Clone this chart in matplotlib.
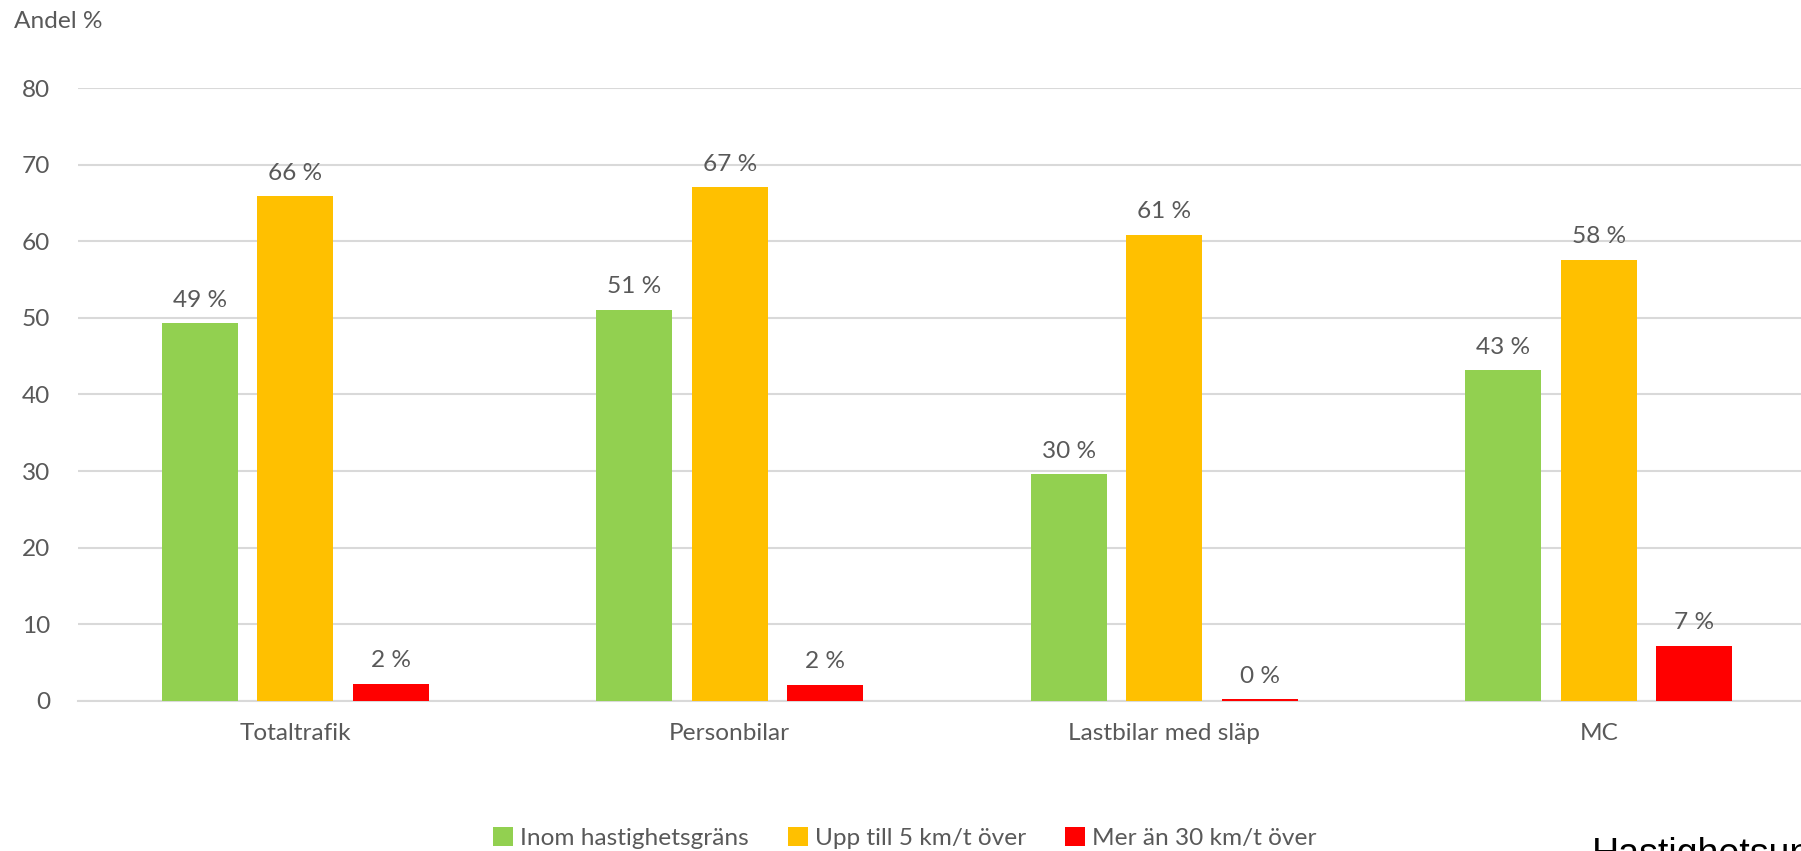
import matplotlib
matplotlib.use("Agg")
import matplotlib.pyplot as plt
import numpy as np
from matplotlib.patches import Patch

# data
categories = ["Totaltrafik", "Personbilar", "Lastbilar med släp", "MC"]
series_names = ["Inom hastighetsgräns", "Upp till 5 km/t över", "Mer än 30 km/t över"]
inom = [49.3, 51.1, 29.6, 43.2]
upp_till_5 = [65.9, 67.1, 60.9, 57.6]
mer_an_30 = [2.2, 2.1, 0.2, 7.2]
y_ticks = [0, 10, 20, 30, 40, 50, 60, 70, 80]

COLORS = ["#92D050", "#FFC000", "#FF0000"]
TEXT = "#595959"
GRID = "#D9D9D9"
FONT = ["Lato", "DejaVu Sans"]
FS = 17.6

plt.rcParams["font.family"] = FONT

fig = plt.figure(figsize=(18.01, 8.51), dpi=100)
ax = fig.add_axes([78 / 1801, 150.4 / 851, (1816 - 78) / 1801, (700.6 - 88.4) / 851])

x = np.arange(len(categories))
width = 0.175
offsets = [-0.22, 0.0, 0.22]
values = [inom, upp_till_5, mer_an_30]

for vals, off, col, name in zip(values, offsets, COLORS, series_names):
    bars = ax.bar(x + off, vals, width=width, color=col, label=name, zorder=3)
    ax.bar_label(bars, labels=[f"{round(v):.0f} %" for v in vals], padding=9,
                 fontsize=FS, color=TEXT)

ax.set_xlim(-0.5, 3.5)
ax.set_ylim(0, 80)
ax.set_yticks(y_ticks)
ax.set_xticks(x)
ax.set_xticklabels(categories)
ax.tick_params(axis="both", length=0, labelsize=FS, labelcolor=TEXT)
ax.tick_params(axis="y", pad=20)
ax.tick_params(axis="x", pad=16)
ax.yaxis.grid(True, color=GRID, linewidth=1.5, zorder=0)
ax.set_axisbelow(True)
for side in ["top", "right", "left"]:
    ax.spines[side].set_visible(False)
ax.spines["bottom"].set_color(GRID)
ax.spines["bottom"].set_linewidth(1.5)

fig.text(14 / 1801, 1 - 22 / 851, "Andel %", fontsize=FS, color=TEXT, va="center", ha="left")

handles = [Patch(facecolor=c, label=n) for c, n in zip(COLORS, series_names)]
fig.legend(handles=handles, loc="center", bbox_to_anchor=(905 / 1801, 13 / 851), ncol=3,
           frameon=False, fontsize=FS, labelcolor=TEXT, handlelength=0.8, handleheight=0.8,
           handletextpad=0.3, columnspacing=1.6)

fig.text(1592 / 1801, 1 - 837 / 851, "Hastighetsundersökning", fontsize=27, color="black",
         family=["Liberation Sans", "DejaVu Sans"], va="top", ha="left")

fig.savefig("out.png", dpi=100)
